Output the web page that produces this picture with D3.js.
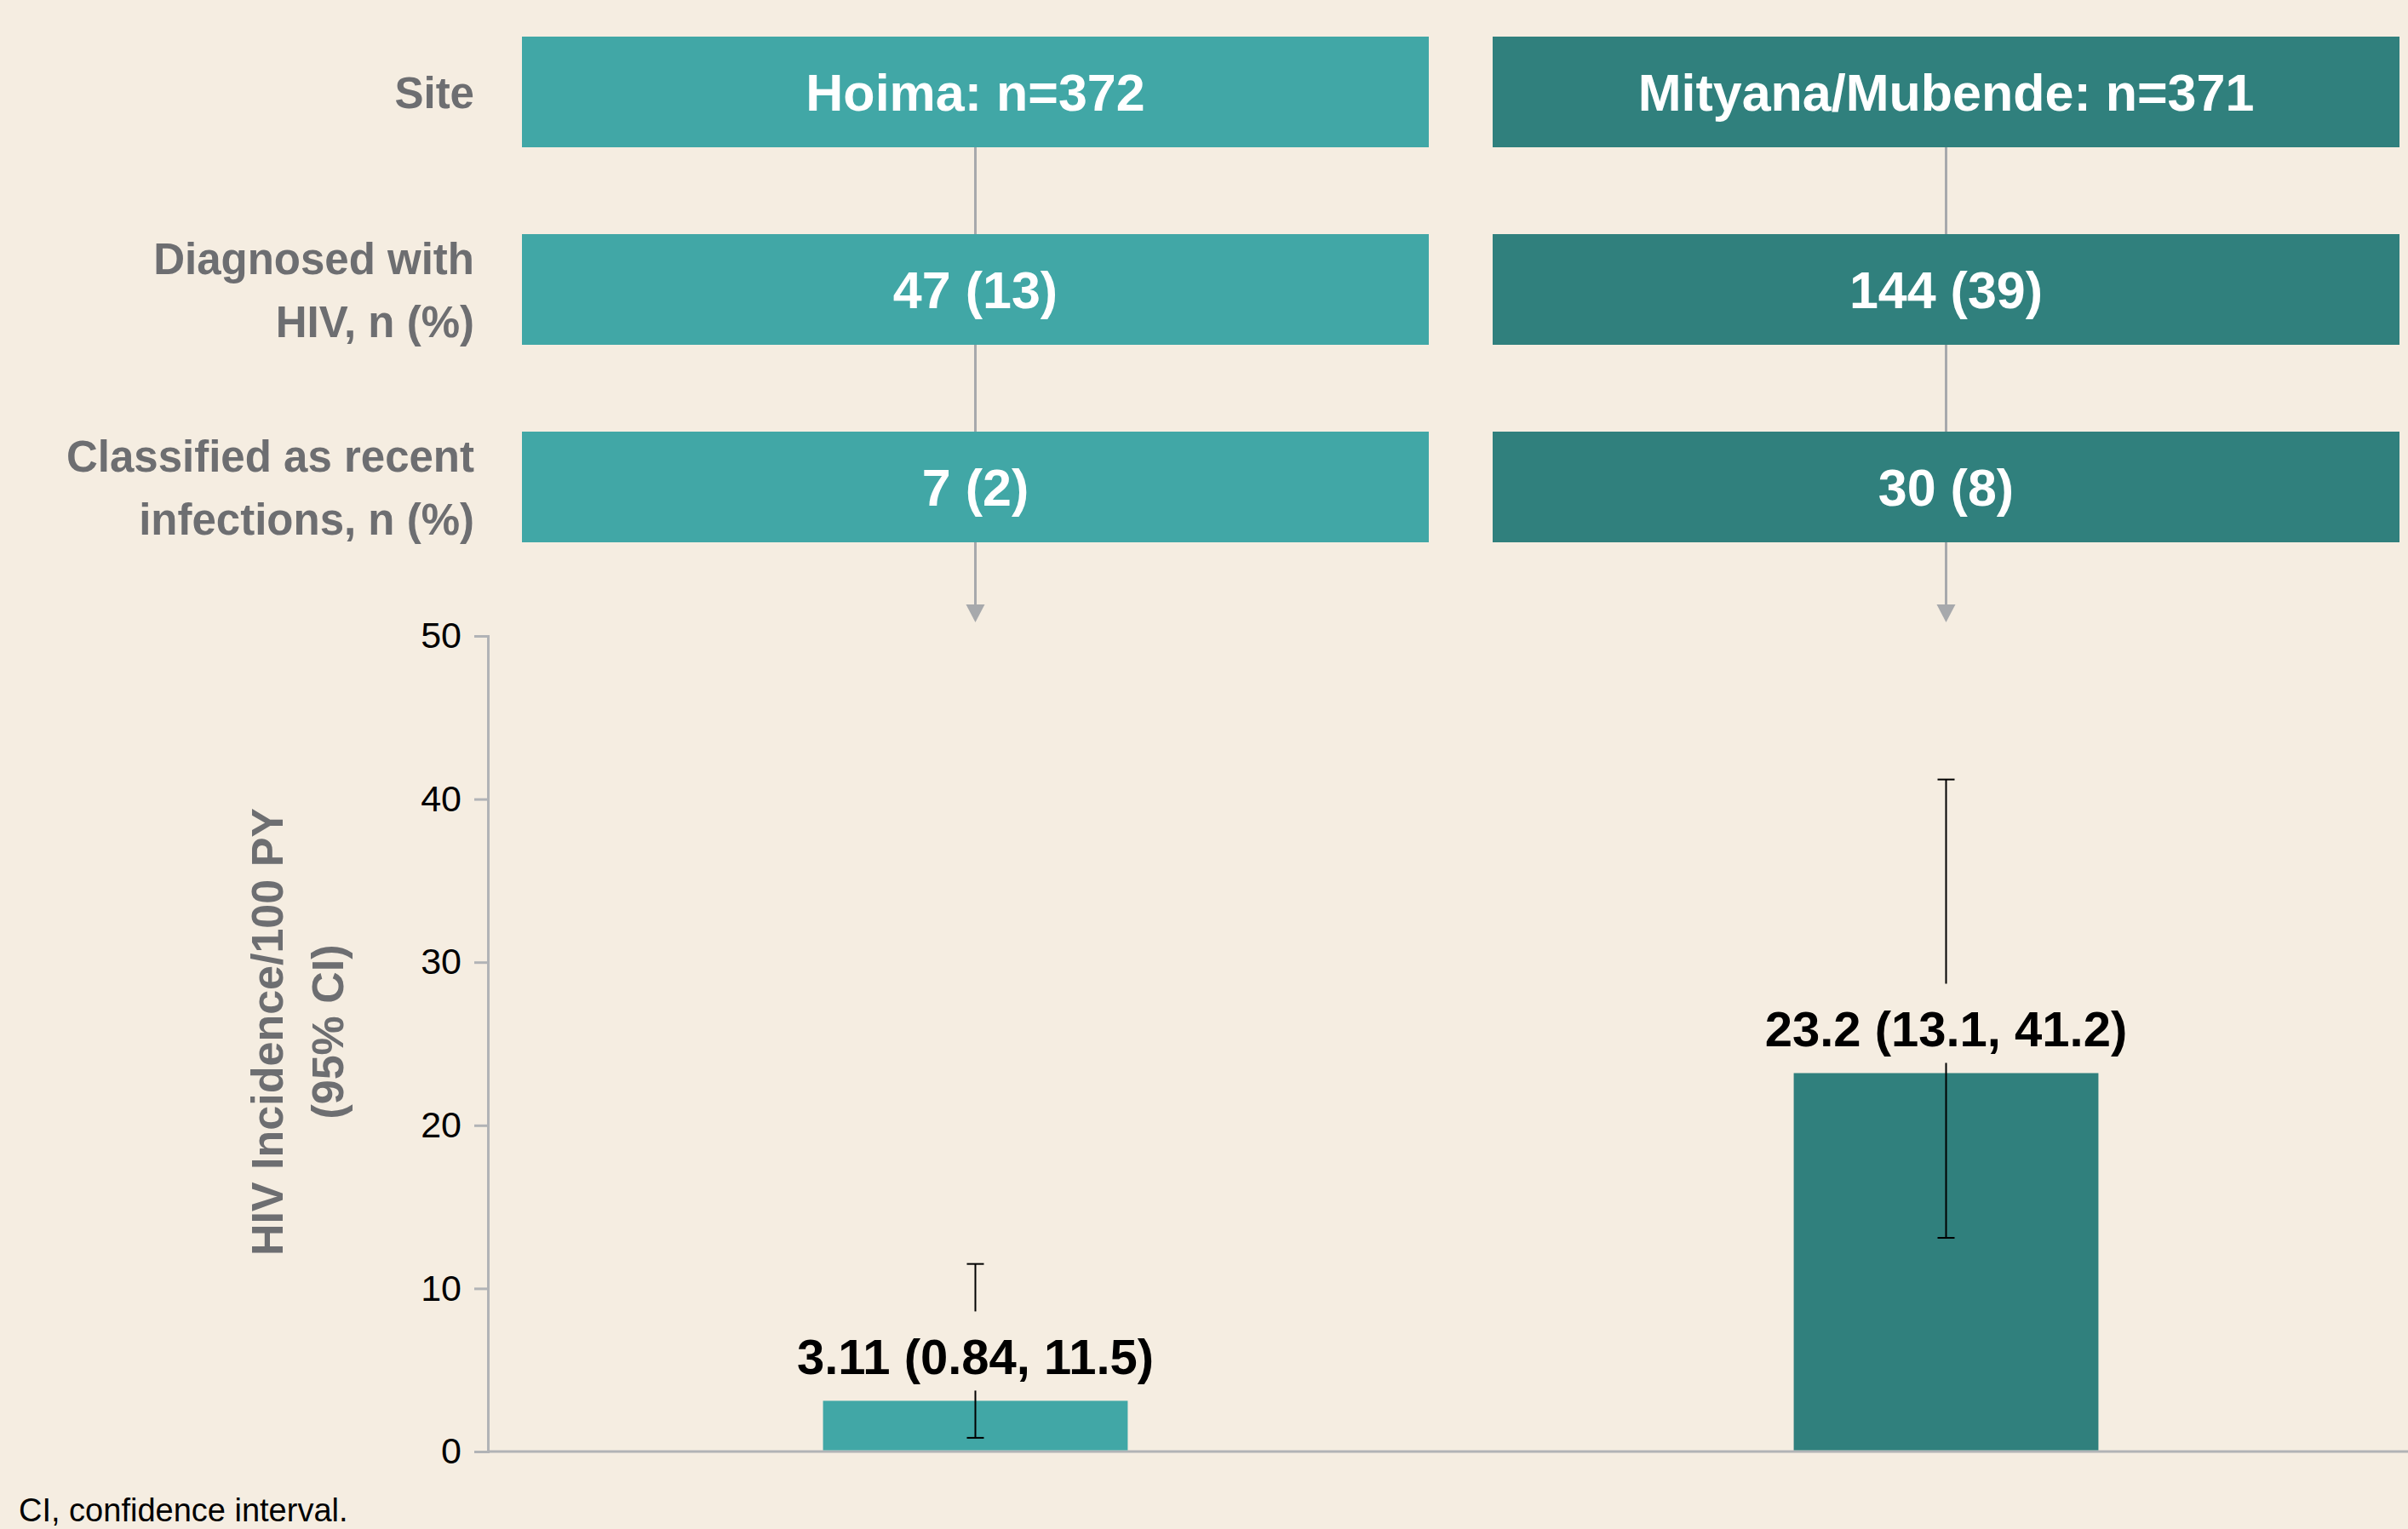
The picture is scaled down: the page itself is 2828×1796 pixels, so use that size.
<!DOCTYPE html>
<html>
<head>
<meta charset="utf-8">
<script src="https://cdn.jsdelivr.net/npm/d3@7"></script>
<style>
  html, body { margin: 0; padding: 0; background: #f5ede1; }
  svg { display: block; font-family: "Liberation Sans", Arial, sans-serif; }
</style>
</head>
<body>
<svg id="chart"></svg>
<script>
// HIV incidence by site, with screening flow above the bars

const sites = ["Hoima", "Mityana/Mubende"];
const siteN = [372, 371];
const diagnosed = [47, 144];
const diagnosedPct = [13, 39];
const recent = [7, 30];
const recentPct = [2, 8];
const incidence = [3.11, 23.2];
const ciLow = [0.84, 13.1];
const ciHigh = [11.5, 41.2];
const rowLabels = [
    ["Site"],
    ["Diagnosed with", "HIV, n (%)"],
    ["Classified as recent", "infections, n (%)"]
];
const yTicks = [0, 10, 20, 30, 40, 50];
const siteColors = ["#41a7a6", "#30807d"];

const width = 2828;
const height = 1796;
const bg = "#f5ede1";
const grayText = "#6d6e71";
const grayLine = "#a7a9ac";

const svg = d3.select("#chart")
    .attr("width", width)
    .attr("height", height);

svg.append("rect").attr("width", width).attr("height", height).attr("fill", bg);

// scales
const x = d3.scaleBand().domain(sites).range([613, 2818]).paddingInner(0.0658);
const rows = d3.scaleBand().domain(d3.range(3)).range([43, 637]).paddingInner(0.4397);
const y = d3.scaleLinear().domain([0, 50]).range([1705, 747]);

// box contents for each row
const rowText = [
    sites.map((s, i) => `${s}: n=${siteN[i]}`),
    sites.map((s, i) => `${diagnosed[i]} (${diagnosedPct[i]})`),
    sites.map((s, i) => `${recent[i]} (${recentPct[i]})`)
];

// connectors with arrowhead (behind the boxes)
const conn = svg.append("g");
sites.forEach(s => {
    const cx = x(s) + x.bandwidth() / 2;
    const tip = y(50) - 16;
    conn.append("line")
        .attr("x1", cx).attr("x2", cx)
        .attr("y1", rows(0) + rows.bandwidth())
        .attr("y2", tip - 18)
        .attr("stroke", grayLine)
        .attr("stroke-width", 3);
    conn.append("path")
        .attr("d", `M${cx - 11},${tip - 21}L${cx + 11},${tip - 21}L${cx},${tip}Z`)
        .attr("fill", grayLine);
});

// flow boxes
rowText.forEach((texts, r) => {
    const g = svg.append("g");
    g.selectAll("rect")
        .data(sites)
        .join("rect")
        .attr("x", d => x(d))
        .attr("y", rows(r))
        .attr("width", x.bandwidth())
        .attr("height", rows.bandwidth())
        .attr("fill", (d, i) => siteColors[i]);
    g.selectAll("text")
        .data(sites)
        .join("text")
        .attr("x", d => x(d) + x.bandwidth() / 2)
        .attr("y", rows(r) + rows.bandwidth() / 2 + 22)
        .attr("text-anchor", "middle")
        .attr("fill", "#ffffff")
        .attr("font-weight", "bold")
        .attr("font-size", 61)
        .text((d, i) => texts[i]);

    // row label on the left
    const lines = rowLabels[r];
    const mid = rows(r) + rows.bandwidth() / 2 + 19;
    const lab = svg.append("text")
        .attr("text-anchor", "end")
        .attr("fill", grayText)
        .attr("font-weight", "bold")
        .attr("font-size", 51);
    lines.forEach((ln, k) => {
        lab.append("tspan")
            .attr("x", 557)
            .attr("y", mid + (k - (lines.length - 1) / 2) * 74)
            .text(ln);
    });
});

// y axis
const yAxis = svg.append("g")
    .attr("transform", `translate(573,0)`)
    .call(d3.axisLeft(y).tickValues(yTicks).tickSize(16).tickPadding(15));
yAxis.select(".domain").attr("stroke", "#b1b3b6").attr("stroke-width", 3);
yAxis.selectAll(".tick line").attr("stroke", "#b1b3b6").attr("stroke-width", 3);
yAxis.selectAll(".tick text")
    .attr("font-size", 43)
    .attr("fill", "#000")
    .attr("font-family", "Liberation Sans, Arial, sans-serif");

// x baseline
svg.append("line")
    .attr("x1", 573).attr("x2", width)
    .attr("y1", y(0)).attr("y2", y(0))
    .attr("stroke", "#b1b3b6")
    .attr("stroke-width", 3);

// y axis title
const titleY = (y(0) + y(50)) / 2 - 14;
svg.append("text")
    .attr("transform", `translate(332,${titleY}) rotate(-90)`)
    .attr("text-anchor", "middle")
    .attr("fill", grayText)
    .attr("font-weight", "bold")
    .attr("font-size", 52)
    .text("HIV Incidence/100 PY");
svg.append("text")
    .attr("transform", `translate(403,${titleY}) rotate(-90)`)
    .attr("text-anchor", "middle")
    .attr("fill", grayText)
    .attr("font-weight", "bold")
    .attr("font-size", 52)
    .text("(95% CI)");

// bars
const barW = x.bandwidth() * 0.336;
svg.append("g")
    .selectAll("rect")
    .data(sites)
    .join("rect")
    .attr("x", d => x(d) + x.bandwidth() / 2 - barW / 2)
    .attr("y", (d, i) => y(incidence[i]))
    .attr("width", barW)
    .attr("height", (d, i) => y(0) - y(incidence[i]) - 1.5)
    .attr("fill", (d, i) => siteColors[i]);

// error bars + value labels
const eb = svg.append("g");
sites.forEach((s, i) => {
    const cx = x(s) + x.bandwidth() / 2;
    const base = y(incidence[i]) - 31;
    const gapTop = base - 74;
    const gapBot = base + 19;
    eb.append("line")
        .attr("x1", cx).attr("x2", cx)
        .attr("y1", y(ciHigh[i])).attr("y2", gapTop)
        .attr("stroke", "#000").attr("stroke-width", 2);
    eb.append("line")
        .attr("x1", cx).attr("x2", cx)
        .attr("y1", gapBot).attr("y2", y(ciLow[i]))
        .attr("stroke", "#000").attr("stroke-width", 2);
    [ciHigh[i], ciLow[i]].forEach(v => {
        eb.append("line")
            .attr("x1", cx - 10).attr("x2", cx + 10)
            .attr("y1", y(v)).attr("y2", y(v))
            .attr("stroke", "#000").attr("stroke-width", 2);
    });
    eb.append("text")
        .attr("x", cx)
        .attr("y", base)
        .attr("text-anchor", "middle")
        .attr("font-weight", "bold")
        .attr("font-size", 58)
        .attr("fill", "#000")
        .text(`${incidence[i]} (${ciLow[i]}, ${ciHigh[i]})`);
});

// footnote
svg.append("text")
    .attr("x", 22)
    .attr("y", 1787)
    .attr("font-size", 38)
    .attr("fill", "#000")
    .text("CI, confidence interval.");
</script>
</body>
</html>
